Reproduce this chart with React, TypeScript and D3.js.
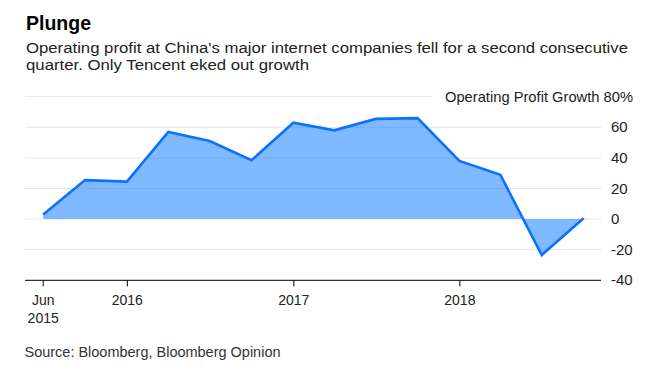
import React from "react";
import * as d3 from "d3";

const dates = [
  "2015-06-30", "2015-09-30", "2015-12-31", "2016-03-31", "2016-06-30", "2016-09-30", "2016-12-31",
  "2017-03-31", "2017-06-30", "2017-09-30", "2017-12-31", "2018-03-31", "2018-06-30", "2018-09-30",
];
const values = [3, 25.5, 24.5, 57, 51, 38.5, 63, 58, 65.5, 66, 38, 29, -23.5, 0.5];
const yTicks = [80, 60, 40, 20, 0, -20, -40];
const xTickDates = ["2015-06-30", "2016-01-01", "2017-01-01", "2018-01-01"];
const xTickLabels = [["Jun", "2015"], ["2016"], ["2017"], ["2018"]];

const W = 665;
const H = 376;
const FONT = "'Liberation Sans', Arial, sans-serif";

export default function App() {
  const parse = d3.timeParse("%Y-%m-%d");
  const data = dates.map((d, i) => ({ date: parse(d) as Date, value: values[i] }));

  const x = d3.scaleTime().domain([parse("2015-06-30") as Date, parse("2018-09-30") as Date]).range([43.2, 583.6]);
  const y = d3.scaleLinear().domain([-40, 80]).range([280.3, 96.7]);

  const plotLeft = 25;
  const plotRight = 601;

  const area = d3
    .area<{ date: Date; value: number }>()
    .x((d) => x(d.date))
    .y0(y(0))
    .y1((d) => y(d.value));
  const line = d3
    .line<{ date: Date; value: number }>()
    .x((d) => x(d.date))
    .y((d) => y(d.value));

  return (
    <div style={{ position: "fixed", left: 0, top: 0 }}>
      <svg width={W} height={H} style={{ display: "block", background: "#fff" }}>
        <text x={26} y={30} fontFamily={FONT} fontWeight="bold" fontSize={19.5} fill="#000">
          Plunge
        </text>
        <text x={26} y={53.3} fontFamily={FONT} fontSize={15.5} fill="#222" textLength={602} lengthAdjust="spacingAndGlyphs">
          Operating profit at China's major internet companies fell for a second consecutive
        </text>
        <text x={26} y={69.5} fontFamily={FONT} fontSize={15.5} fill="#222" textLength={283} lengthAdjust="spacingAndGlyphs">
          quarter. Only Tencent eked out growth
        </text>

        {yTicks.filter((t) => t !== -40).map((t) => (
          <line
            key={"g" + t}
            x1={plotLeft}
            x2={t === 80 ? 432 : plotRight}
            y1={y(t)}
            y2={y(t)}
            stroke="#e6e6e6"
            strokeWidth={1}
          />
        ))}

        <path d={area(data) || ""} fill="#0073ff" fillOpacity={0.5} />
        <path d={line(data) || ""} fill="none" stroke="#0a72ff" strokeWidth={2.6} strokeLinejoin="miter" />

        <line x1={plotLeft} x2={plotRight} y1={y(-40)} y2={y(-40)} stroke="#000" strokeWidth={1} />
        {xTickDates.map((d, i) => {
          const px = x(parse(d) as Date);
          return (
            <g key={d}>
              <line x1={px} x2={px} y1={y(-40)} y2={y(-40) + 6} stroke="#000" strokeWidth={1} />
              {xTickLabels[i].map((l, j) => (
                <text
                  key={l}
                  x={px}
                  y={305 + j * 18.3}
                  textAnchor="middle"
                  fontFamily={FONT}
                  fontSize={14}
                  fill="#222"
                >
                  {l}
                </text>
              ))}
            </g>
          );
        })}

        {yTicks.map((t) =>
          t === 80 ? (
            <text key={"l" + t} x={445} y={y(t) + 5} fontFamily={FONT} fontSize={14.5} fill="#222" textLength={188} lengthAdjust="spacingAndGlyphs">
              Operating Profit Growth 80%
            </text>
          ) : (
            <text key={"l" + t} x={611} y={y(t) + 5} fontFamily={FONT} fontSize={15} fill="#222">
              {t}
            </text>
          )
        )}

        <text x={24.5} y={356.7} fontFamily={FONT} fontSize={14} fill="#333" textLength={256} lengthAdjust="spacingAndGlyphs">
          Source: Bloomberg, Bloomberg Opinion
        </text>
      </svg>
    </div>
  );
}
